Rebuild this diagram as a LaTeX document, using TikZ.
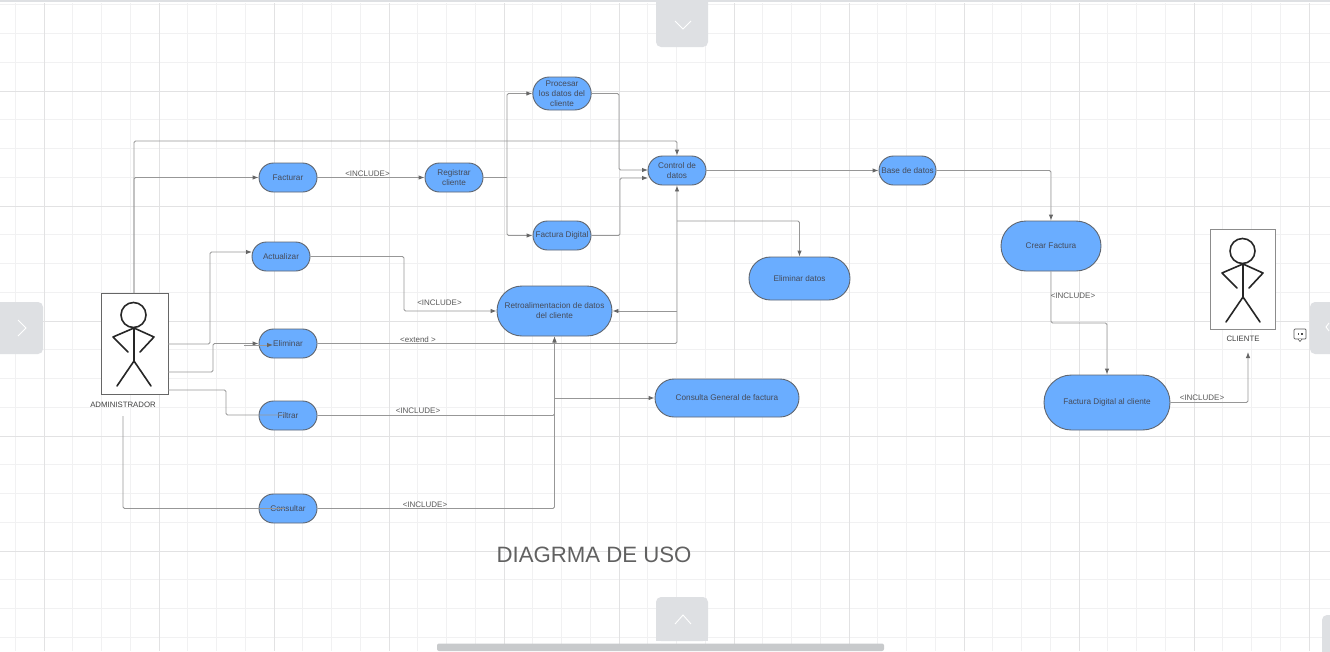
\documentclass[tikz,border=0pt]{standalone}
\usepackage{fontspec}
\setmainfont{Liberation Sans}
\usetikzlibrary{shapes.misc,arrows.meta}
\definecolor{pillblue}{HTML}{6AADFF}
\definecolor{pillline}{HTML}{5F6670}
\definecolor{edgegray}{HTML}{979797}
\definecolor{textgray}{HTML}{454B5A}
\definecolor{chrome}{HTML}{DEE0E3}
\definecolor{gridminor}{HTML}{F1F1F2}
\definecolor{gridmajor}{HTML}{E2E2E3}
\tikzset{
  x=1pt,y=-1pt,
  pill/.style={rounded rectangle,draw=pillline,line width=0.9pt,fill=pillblue,inner sep=0pt,
    text=textgray,font=\fontsize{8.2}{10}\selectfont,align=center},
  actorbox/.style={rectangle,draw=black!60,line width=0.7pt,fill=white,inner sep=0pt,minimum width=#1},
  edge/.style={draw=edgegray,line width=0.9pt,rounded corners=1.5pt},
  arr/.style={edge,-{Latex[length=6pt,width=4.5pt,color=black!60]}},
  edgelabel/.style={text=black!65,font=\fontsize{8}{10}\selectfont,inner sep=0pt},
  actorname/.style={text=black!75,font=\fontsize{7.8}{10}\selectfont,inner sep=0pt},
  chromebtn/.style={fill=chrome,draw=none,rounded corners=5pt},
  chev/.style={draw=white,line width=0.9pt},
  stick/.style={draw=black!85,line width=1.6pt,line cap=round,line join=round}
}
\newcommand{\stickfig}{%
  \draw[stick] (133.5,315) circle (12.5);
  \draw[stick] (134,328) -- (134,361);
  \draw[stick] (128,352) -- (113,337) -- (134,328) -- (154,337) -- (140,352);
  \draw[stick] (117,386) -- (134,361) -- (151,386);
}
\begin{document}
\begin{tikzpicture}
\useasboundingbox (0,0) rectangle (1330,651);
\fill[white] (0,0) rectangle (1330,651);
% grid
\foreach \i in {0,...,46}{
  \pgfmathsetmacro{\gx}{15.25+28.75*\i}
  \draw[gridminor,line width=0.8pt] (\gx,3) -- (\gx,651);
}
\foreach \i in {0,...,22}{
  \pgfmathsetmacro{\gy}{4.75+28.75*\i}
  \draw[gridminor,line width=0.8pt] (0,\gy) -- (1330,\gy);
}
\foreach \i in {0,...,11}{
  \pgfmathsetmacro{\gx}{44+115*\i}
  \draw[gridmajor,line width=0.8pt] (\gx,3) -- (\gx,651);
}
\foreach \gy in {91,206,321,436,551}{
  \draw[gridmajor,line width=0.8pt] (0,\gy) -- (1330,\gy);
}
\fill[chrome] (0,0) rectangle (1330,2);
% window chrome
\fill[chromebtn] (656,-8) rectangle (708,47);
\draw[chev] (675,21) -- (683,29) -- (691,21);
\fill[chromebtn] (656,597) rectangle (708,641);
\fill[chrome] (656,630) rectangle (708,641);
\draw[chev] (675,624) -- (683,615) -- (691,624);
\fill[chromebtn] (-8,302) rectangle (43,354);
\draw[chev] (18,320) -- (26,328) -- (18,336);
\fill[chromebtn] (1310,302) rectangle (1340,354);
\draw[chev] (1329,323) -- (1326,327) -- (1329,331);
\fill[chrome!90!black,rounded corners=2pt] (437,643.5) rectangle (884,651);
\fill[chromebtn] (1322,615) rectangle (1340,660);
% comment icon
\draw[black!65,line width=0.7pt,rounded corners=1pt] (1294,329) rectangle (1306,339);
\fill[white,draw=black!65,line width=0.6pt] (1298,339) -- (1300,341.5) -- (1302,339);
\fill[black!70] (1297.5,332.5) rectangle (1299.3,335);
\fill[black!70] (1300.7,332.5) rectangle (1302.5,335);
% actors
\node[actorbox=67pt,minimum height=101pt] (admin) at (134.5,343.5) {};
\node[actorbox=65pt,minimum height=100pt,draw=black!45] (cliente) at (1242.5,279) {};
\stickfig
\begin{scope}[shift={(1109,-64)}]\stickfig\end{scope}
\node[actorname] (adminlabel) at (123,405) {ADMINISTRADOR};
\node[actorname] (clientelabel) at (1243,339) {CLIENTE};
% use cases
\node[pill,minimum width=58pt,minimum height=29pt] (facturar) at (288,177.5) {Facturar};
\node[pill,minimum width=58pt,minimum height=29pt] (registrar) at (454,177.5) {Registrar\\cliente};
\node[pill,minimum width=58pt,minimum height=33pt] (procesar) at (562,93.5) {Procesar\\los datos  del\\cliente};
\node[pill,minimum width=58pt,minimum height=29pt] (facdig) at (562,235.5) {Factura Digital};
\node[pill,minimum width=58pt,minimum height=29pt] (control) at (677,170.5) {Control de\\datos};
\node[pill,minimum width=57pt,minimum height=29pt] (base) at (907.5,170.5) {Base de datos};
\node[pill,minimum width=58pt,minimum height=29pt] (actualizar) at (281,256.5) {Actualizar};
\node[pill,minimum width=115pt,minimum height=50pt] (retro) at (554.5,311) {Retroalimentacion de datos\\del cliente};
\node[pill,minimum width=58pt,minimum height=29pt] (eliminar) at (288,343.5) {Eliminar};
\node[pill,minimum width=58pt,minimum height=29pt] (filtrar) at (288,415.5) {Filtrar};
\node[pill,minimum width=58pt,minimum height=29pt] (consultar) at (288,508.5) {Consultar};
\node[pill,minimum width=101pt,minimum height=43pt] (elimdatos) at (799.5,278.5) {Eliminar datos};
\node[pill,minimum width=100pt,minimum height=50pt] (crear) at (1051,246) {Crear Factura};
\node[pill,minimum width=144pt,minimum height=38pt] (consulta) at (727,398) {Consulta  General de factura};
\node[pill,minimum width=126pt,minimum height=55pt] (facdigcli) at (1107,402.5) {Factura Digital al cliente};
% free ends and bends
\coordinate (adminTop) at (134,293);
\coordinate (adminA) at (168,344);
\coordinate (adminB) at (168,372);
\coordinate (adminC) at (168,390);
\coordinate (adminD) at (123,416);
\coordinate (eliminarStub) at (244,345);
\coordinate (eliminarIn) at (273,345);
\coordinate (filtrarIn) at (285,415);
\coordinate (consultarIn) at (285,508.5);
\coordinate (branch) at (507,177.5);
\coordinate (trunk) at (677,344);
\coordinate (trunkA) at (677,221);
\coordinate (trunkB) at (677,311);
\coordinate (bus) at (554.5,398);
\coordinate (clienteIn) at (1248,352);
% connectors
\draw[arr] (adminTop) -- (134,177.5) -- (facturar.west);
\draw[arr] (adminTop) -- (134,141) -- (677,141) -- (control.north);
\draw[arr] (adminA) -- (210,344) -- (210,252) -- (252,252);
\draw[arr] (adminB) -- (213,372) -- (213,343.5) -- (eliminar.west);
\draw[arr] (eliminarStub) -- (eliminarIn);
\draw[edge] (adminC) -- (226,390) -- (226,415) -- (filtrarIn);
\draw[edge] (adminD) -- (123,508.5) -- (consultarIn);
\draw[arr] (facturar.east) -- (registrar.west);
\draw[edge] (registrar.east) -- (branch);
\draw[arr] (branch) -- (507,93.5) -- (procesar.west);
\draw[arr] (branch) -- (507,235.5) -- (facdig.west);
\draw[arr] (procesar.east) -- (619,93.5) -- (619,170) -- (648,170);
\draw[arr] (facdig.east) -- (620,235.5) -- (620,178) -- (648,178);
\draw[arr] (control.east) -- (base.west);
\draw[arr] (base.east) -- (1051,170.5) -- (crear.north);
\draw[arr] (eliminar.east) -- (677,343.5) -- (control.south);
\draw[arr] (trunkA) -- (799.5,221) -- (elimdatos.north);
\draw[arr] (trunkB) -- (retro.east);
\draw[arr] (actualizar.east) -- (404,256.5) -- (404,311) -- (retro.west);
\draw[arr] (filtrar.east) -- (554.5,415.5) -- (retro.south);
\draw[arr] (consultar.east) -- (554.5,508.5) -- (retro.south);
\draw[arr] (bus) -- (consulta.west);
\draw[arr] (crear.south) -- (1051,323) -- (1107,323) -- (facdigcli.north);
\draw[arr] (facdigcli.east) -- (1248,402.5) -- (clienteIn);
% connector labels
\node[edgelabel] (l1) at (367.5,174) {<INCLUDE>};
\node[edgelabel] (l2) at (439.5,303) {<INCLUDE>};
\node[edgelabel] (l3) at (418,340) {<extend >};
\node[edgelabel] (l4) at (418,411) {<INCLUDE>};
\node[edgelabel] (l5) at (425,505) {<INCLUDE>};
\node[edgelabel] (l6) at (1073,296) {<INCLUDE>};
\node[edgelabel] (l7) at (1202,398) {<INCLUDE>};
% title
\node[inner sep=0pt,text=black!62,font=\fontsize{22.2}{24}\selectfont] (title) at (594,555) {DIAGRMA DE USO};
\end{tikzpicture}
\end{document}
